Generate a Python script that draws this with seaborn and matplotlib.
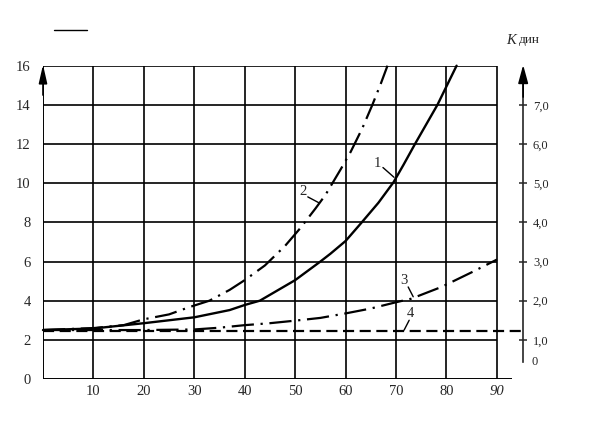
import numpy as np
import pandas as pd
import matplotlib
matplotlib.use("Agg")
import matplotlib.pyplot as plt
from matplotlib.lines import Line2D
import seaborn as sns

# curve values (left scale)
x1 = [0, 10, 20, 30, 37, 40, 43, 50, 55, 57, 60, 63.2, 66.5, 69.5, 71.5, 73.75, 78.2, 82]
y1 = [2.5, 2.58, 2.85, 3.15, 3.52, 3.78, 4.0, 5.05, 6.0, 6.4, 7.05, 8.0, 9.0, 10.05, 10.95, 12.0, 14.0, 16.0]

x2 = [0, 10, 16, 20, 25, 29, 33, 37, 40, 44, 48, 51, 54, 56, 59, 61, 63.3, 65.3, 67, 68.3]
y2 = [2.5, 2.6, 2.75, 3.05, 3.3, 3.67, 4.0, 4.55, 5.05, 5.8, 6.8, 7.7, 8.7, 9.4, 10.7, 11.6, 12.8, 14.0, 15.1, 16.0]

x3 = [0, 10, 20, 30, 35, 40, 45, 50, 55, 60, 65, 70, 73, 79, 85, 90]
y3 = [2.5, 2.5, 2.5, 2.53, 2.62, 2.75, 2.85, 2.98, 3.12, 3.35, 3.6, 3.92, 4.1, 4.7, 5.45, 6.1]

x4 = [0, 95.2]
y4 = [2.45, 2.45]

x_ticks = [10, 20, 30, 40, 50, 60, 70, 80, 90]
y_ticks = [0, 2, 4, 6, 8, 10, 12, 14, 16]
right_ticks = [1, 2, 3, 4, 5, 6, 7]
right_labels = ["1,0", "2,0", "3,0", "4,0", "5,0", "6,0", "7,0"]

sns.set_style("white")
plt.rcParams["font.family"] = ["Liberation Serif", "DejaVu Serif"]

fig = plt.figure(figsize=(5.9, 4.22), dpi=100)
ax = fig.add_axes([43 / 590, 1 - 379 / 422, 484.2 / 590, 313.3 / 422])
ax.set_xlim(0, 96)
ax.set_ylim(0, 16)
for s in ax.spines.values():
    s.set_visible(False)

# grid / frame
ax.vlines(x_ticks, 0, 16, color="k", lw=1.2, zorder=1)
ax.hlines(y_ticks[1:], 0, 90, color="k", lw=1.2, zorder=1)
ax.hlines(0, 0, 93, color="k", lw=1.4, zorder=1)
ax.vlines(0, 0, 16, color="k", lw=1.4, zorder=1)
ax.annotate("", xy=(0, 16.05), xytext=(0, 14.5),
            arrowprops=dict(arrowstyle="-|>,head_length=1.1,head_width=0.25",
                            color="k", lw=1.2, shrinkA=0, shrinkB=0),
            annotation_clip=False)

# curves
sns.lineplot(x=x1, y=y1, ax=ax, color="k", lw=1.7, sort=False, estimator=None)
sns.lineplot(x=x2, y=y2, ax=ax, color="k", lw=1.6, sort=False, estimator=None,
             linestyle=(0, (10, 3, 1, 3)))
sns.lineplot(x=x3, y=y3, ax=ax, color="k", lw=1.6, sort=False, estimator=None,
             linestyle=(0, (10, 3, 1, 3)))
sns.lineplot(x=x4, y=y4, ax=ax, color="k", lw=1.6, sort=False, estimator=None,
             linestyle=(0, (5, 2.5)))
for ln in ax.lines:
    ln.set_clip_on(False)

# curve labels with leaders
for txt, tpos, p0, p1 in [("1", (66.4, 11.0), (67.4, 10.8), (69.6, 10.3)),
                          ("2", (51.5, 9.6), (52.5, 9.3), (54.7, 9.0)),
                          ("3", (71.6, 5.05), (72.4, 4.7), (73.4, 4.2)),
                          ("4", (72.8, 3.37), (72.6, 3.0), (71.6, 2.5))]:
    ax.text(*tpos, txt, fontsize=10.5, ha="center", va="center")
    ax.plot([p0[0], p1[0]], [p0[1], p1[1]], color="k", lw=1.0)

ax.set_xticks(x_ticks)
ax.set_xticklabels([str(v) for v in x_ticks])
ax.set_yticks(y_ticks)
ax.set_yticklabels([str(v) for v in y_ticks])
ax.tick_params(axis="x", length=0, pad=4, labelsize=10.5)
ax.tick_params(axis="y", length=0, pad=9, labelsize=10.5)
ax.get_xticklabels()[-1].set_style("italic")
ax.set_xlabel("")
ax.set_ylabel("")

# right scale (K дин)
ax2 = ax.twinx()
ax2.set_ylim(0, 8)
for name, s in ax2.spines.items():
    s.set_visible(name == "right")
ax2.spines["right"].set_position(("data", 95.2))
ax2.spines["right"].set_bounds(0.43, 7.6)
ax2.spines["right"].set_linewidth(1.2)
ax2.set_yticks(right_ticks)
ax2.set_yticklabels(right_labels)
ax2.tick_params(axis="y", direction="inout", length=6, width=1.1, pad=4, labelsize=9)
ax2.text(96.9, 0.43, "0", fontsize=9, ha="left", va="center")
ax2.annotate("", xy=(95.2, 8.02), xytext=(95.2, 7.2),
             arrowprops=dict(arrowstyle="-|>,head_length=1.1,head_width=0.3",
                             color="k", lw=1.2, shrinkA=0, shrinkB=0),
             annotation_clip=False)

fig.text(506 / 590, 1 - 40 / 422, "К", fontsize=10.5, style="italic", va="center")
fig.text(519 / 590, 1 - 40 / 422, "дин", fontsize=9.5, va="center")
fig.add_artist(Line2D([54 / 590, 87 / 590], [1 - 30 / 422, 1 - 30 / 422], color="k", lw=1))

fig.savefig("out.png", dpi=100)
